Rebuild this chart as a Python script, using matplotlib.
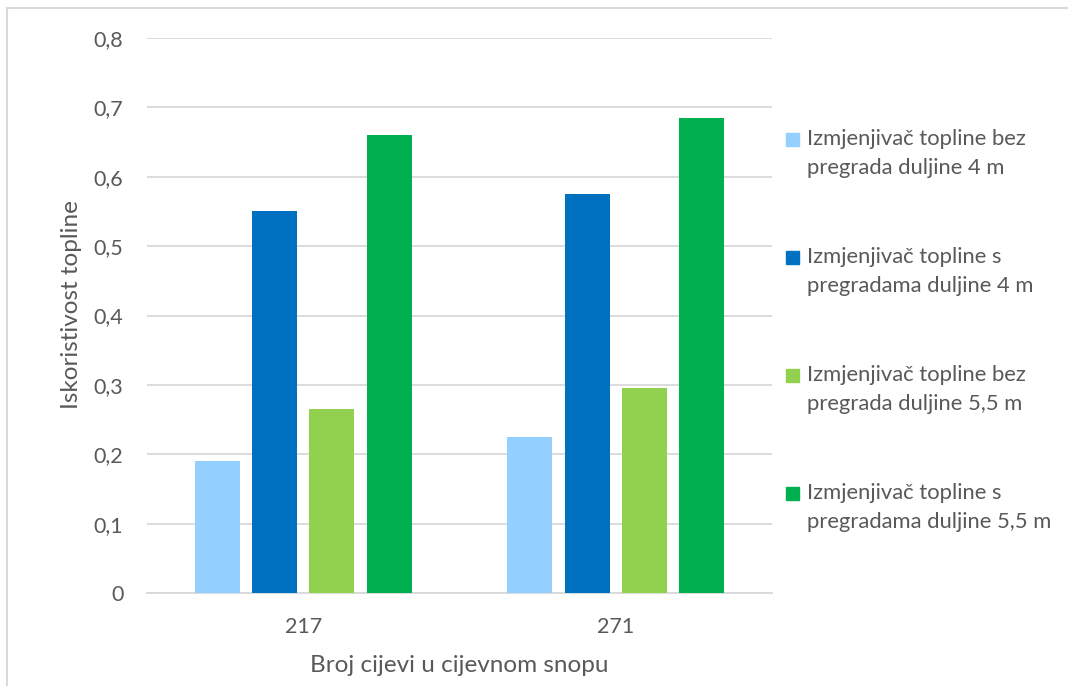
import numpy as np
import matplotlib
matplotlib.use("Agg")
import matplotlib.pyplot as plt
from matplotlib.lines import Line2D
from matplotlib.patches import Rectangle

# data
categories = ["217", "271"]
series_names = [
    "Izmjenjivač topline bez\npregrada duljine 4 m",
    "Izmjenjivač topline s\npregradama duljine 4 m",
    "Izmjenjivač topline bez\npregrada duljine 5,5 m",
    "Izmjenjivač topline s\npregradama duljine 5,5 m",
]
bez_4m = [0.19, 0.225]
s_4m = [0.55, 0.575]
bez_55m = [0.265, 0.295]
s_55m = [0.66, 0.685]
y_ticks = [0, 0.1, 0.2, 0.3, 0.4, 0.5, 0.6, 0.7, 0.8]
y_tick_labels = ["0", "0,1", "0,2", "0,3", "0,4", "0,5", "0,6", "0,7", "0,8"]

colors = ["#94D0FF", "#0070C0", "#92D050", "#00B050"]
text_col = "#595959"
grid_col = "#D9D9D9"

plt.rcParams['font.family'] = ['Lato', 'DejaVu Sans']

W, H = 1068, 686
fig = plt.figure(figsize=(W / 100, H / 100), dpi=100)
# axes placed in pixels: plot area 147..772 x 38..593
ax = fig.add_axes([147 / W, 1 - 593 / H, (772 - 147) / W, (593 - 38) / H])

x = np.arange(len(categories))
pitch = 0.183
width = 0.144
for i, vals in enumerate([bez_4m, s_4m, bez_55m, s_55m]):
    ax.bar(x + (i - 1.5) * pitch, vals, width, color=colors[i], zorder=3)

ax.set_xlim(-0.5, 1.5)
ax.set_ylim(0, 0.8)
ax.set_yticks(y_ticks)
ax.set_yticklabels(y_tick_labels)
ax.set_xticks(x)
ax.set_xticklabels(categories)
ax.yaxis.grid(True, color=grid_col, linewidth=1.3, zorder=0)
ax.tick_params(axis='both', length=0, labelsize=15.5, colors=text_col)
ax.tick_params(axis='y', pad=17)
ax.tick_params(axis='x', pad=17)
for s in ["top", "right", "left"]:
    ax.spines[s].set_visible(False)
ax.spines["bottom"].set_color(grid_col)
ax.spines["bottom"].set_linewidth(1.3)

ax.set_ylabel("Iskoristivost topline", fontsize=17.5, color=text_col, va="center")
ax.yaxis.set_label_coords((72 - 147) / 625, (593 - 305) / 555)
ax.set_xlabel("Broj cijevi u cijevnom snopu", fontsize=17.5, color=text_col, va="center")
ax.xaxis.set_label_coords(0.5, (593 - 665) / 555)

# legend: marker sits on the first line of each two-line entry
for i, name in enumerate(series_names):
    y0 = 139 + i * 118
    fig.add_artist(Rectangle((786 / W, 1 - (y0 + 7) / H), 13 / W, 13 / H,
                             color=colors[i], transform=fig.transFigure))
    for j, line in enumerate(name.split("\n")):
        fig.text(807 / W, 1 - (y0 + j * 29) / H, line, fontsize=15.8,
                 color=text_col, va="center", ha="left")

# outer chart border (left and top edges visible)
fig.add_artist(Line2D([7 / W, 7 / W], [0, 1 - 8 / H], color="#D9D9D9", lw=1.5))
fig.add_artist(Line2D([7 / W, 1], [1 - 8 / H, 1 - 8 / H], color="#D9D9D9", lw=1.5))

fig.savefig("out.png", dpi=100, facecolor="white")
